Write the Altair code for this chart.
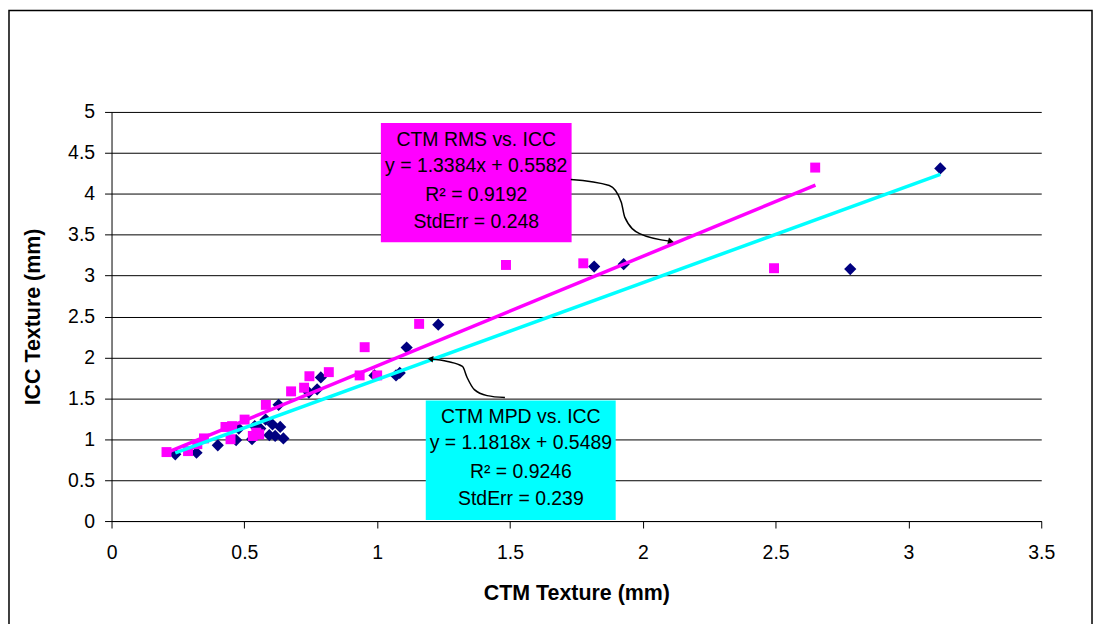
import altair as alt
import pandas as pd

# ---- data ----
mpd_x = [0.24, 0.32, 0.40, 0.469, 0.479, 0.529, 0.539, 0.56, 0.58, 0.594, 0.606, 0.616,
         0.635, 0.647, 0.629, 0.743, 0.774, 0.788, 0.99, 1.071, 1.085, 1.111, 1.23,
         1.817, 1.928, 2.781, 3.12]
mpd_y = [0.815, 0.835, 0.925, 0.99, 1.13, 1.00, 1.16, 1.13, 1.24, 1.05, 1.18, 1.04,
         1.15, 1.01, 1.42, 1.57, 1.61, 1.755, 1.78, 1.78, 1.81, 2.12, 2.40,
         3.11, 3.14, 3.08, 4.31]
rms_x = [0.207, 0.288, 0.323, 0.348, 0.429, 0.454, 0.448, 0.501, 0.532, 0.556, 0.545,
         0.581, 0.676, 0.725, 0.745, 0.818, 0.934, 0.953, 1.0, 1.158, 1.485, 1.776,
         2.494, 2.649]
rms_y = [0.843, 0.855, 0.94, 1.01, 1.15, 1.16, 1.00, 1.24, 1.04, 1.06, 1.08,
         1.42, 1.585, 1.63, 1.77, 1.82, 1.78, 2.125, 1.78, 2.41, 3.13, 3.15,
         3.09, 4.32]

x_ticks = [0, 0.5, 1, 1.5, 2, 2.5, 3, 3.5]
y_ticks = [0, 0.5, 1, 1.5, 2, 2.5, 3, 3.5, 4, 4.5, 5]

rms_slope, rms_intercept, rms_xmin, rms_xmax = 1.3384, 0.5582, 0.21, 2.65
mpd_slope, mpd_intercept, mpd_xmin, mpd_xmax = 1.1818, 0.5489, 0.24, 3.12

rms_label = ["CTM RMS vs. ICC", "y = 1.3384x + 0.5582", "R\u00b2 = 0.9192", "StdErr = 0.248"]
mpd_label = ["CTM MPD vs. ICC", "y = 1.1818x + 0.5489", "R\u00b2 = 0.9246", "StdErr = 0.239"]
rms_label_y = [4.66, 4.34, 3.98, 3.66]
mpd_label_y = [1.277, 0.949, 0.596, 0.268]
rms_label_x = 1.373
mpd_label_x = 1.541
rms_box = [1.014, 1.732, 3.406, 4.866]
mpd_box = [1.183, 1.898, 0.012, 1.472]

rms_arrow_x = [1.729, 1.874, 1.919, 1.932, 1.988, 2.106]
rms_arrow_y = [4.173, 4.100, 3.897, 3.714, 3.512, 3.418]
mpd_arrow_x = [1.200, 1.265, 1.321, 1.339, 1.366, 1.414, 1.481]
mpd_arrow_y = [1.983, 1.950, 1.889, 1.752, 1.606, 1.533, 1.509]

FONT = "Liberation Sans"

# ---- tables ----
mpd_df = pd.DataFrame({"x": mpd_x, "y": mpd_y})
rms_df = pd.DataFrame({"x": rms_x, "y": rms_y})
rms_fit = pd.DataFrame({"x": [rms_xmin, rms_xmax],
                        "y": [rms_slope * rms_xmin + rms_intercept, rms_slope * rms_xmax + rms_intercept]})
mpd_fit = pd.DataFrame({"x": [mpd_xmin, mpd_xmax],
                        "y": [mpd_slope * mpd_xmin + mpd_intercept, mpd_slope * mpd_xmax + mpd_intercept]})
box_df = pd.DataFrame({"x": [rms_box[0], mpd_box[0]], "x2": [rms_box[1], mpd_box[1]],
                       "y": [rms_box[2], mpd_box[2]], "y2": [rms_box[3], mpd_box[3]],
                       "c": ["rms", "mpd"]})
txt_df = pd.DataFrame({"x": [rms_label_x] * 4 + [mpd_label_x] * 4,
                       "y": rms_label_y + mpd_label_y,
                       "t": rms_label + mpd_label})
rms_arrow = pd.DataFrame({"x": rms_arrow_x, "y": rms_arrow_y, "i": list(range(len(rms_arrow_x)))})
mpd_arrow = pd.DataFrame({"x": mpd_arrow_x, "y": mpd_arrow_y, "i": list(range(len(mpd_arrow_x)))})

xscale = alt.Scale(domain=[0, 3.5], nice=False, zero=False)
yscale = alt.Scale(domain=[0, 5], nice=False, zero=False)

xaxis = alt.Axis(values=x_ticks, title="CTM Texture (mm)", grid=False, labelFlush=False,
                 labelExpr="datum.value + ''", labelFont=FONT, labelFontSize=19.5,
                 labelColor="black", titleFont=FONT, titleFontSize=21.5, titleFontWeight="bold",
                 titleColor="black", tickSize=7, tickColor="black", domainColor="black",
                 labelPadding=16, titlePadding=20)
yaxis = alt.Axis(values=y_ticks, title="ICC Texture (mm)", grid=True, gridColor="black",
                 gridOpacity=1, gridWidth=1, labelExpr="datum.value + ''", labelFont=FONT,
                 labelFlush=False,
                 labelFontSize=19.5, labelColor="black", titleFont=FONT, titleFontSize=21.5,
                 titleFontWeight="bold", titleColor="black", tickSize=7, tickColor="black",
                 domainColor="black", labelPadding=10, titlePadding=23)

X = alt.X("x:Q", scale=xscale, axis=xaxis)
Y = alt.Y("y:Q", scale=yscale, axis=yaxis)

frame = alt.Chart(pd.DataFrame({"a": [0]})).mark_rect(
    fillOpacity=0, stroke="black", strokeWidth=1.5).encode(
    x=alt.value(-103), x2=alt.value(985), y=alt.value(-102), y2=alt.value(640))

diamonds = alt.Chart(mpd_df).mark_point(shape="diamond", filled=True, color="#000080",
                                        size=150, opacity=1).encode(x=X, y=Y)
squares = alt.Chart(rms_df).mark_point(shape="square", filled=True, color="#FF00FF",
                                       size=100, opacity=1).encode(x=X, y=Y)
rms_line = alt.Chart(rms_fit).mark_line(color="#FF00FF", strokeWidth=3.5).encode(x=X, y=Y)
mpd_line = alt.Chart(mpd_fit).mark_line(color="#00FFFF", strokeWidth=3.5).encode(x=X, y=Y)

boxes = alt.Chart(box_df).mark_rect().encode(
    x=X, x2="x2:Q", y=Y, y2="y2:Q",
    color=alt.Color("c:N", scale=alt.Scale(domain=["rms", "mpd"], range=["#FF00FF", "#00FFFF"]),
                    legend=None))
texts = alt.Chart(txt_df).mark_text(font=FONT, fontSize=19.5, color="black",
                                    align="center", baseline="middle").encode(x=X, y=Y, text="t:N")

rms_curve = alt.Chart(rms_arrow).mark_line(color="black", strokeWidth=1.5,
                                           interpolate="monotone").encode(x=X, y=Y, order="i:Q")
mpd_curve = alt.Chart(mpd_arrow).mark_line(color="black", strokeWidth=1.5,
                                           interpolate="monotone").encode(x=X, y=Y, order="i:Q")
rms_head = alt.Chart(rms_arrow.tail(1)).mark_point(shape="triangle-right", filled=True,
                                                   color="black", size=45, angle=14,
                                                   opacity=1).encode(x=X, y=Y)
mpd_head = alt.Chart(mpd_arrow.head(1)).mark_point(shape="triangle-left", filled=True,
                                                   color="black", size=45, angle=8,
                                                   opacity=1).encode(x=X, y=Y)

chart = alt.layer(
    frame, diamonds, squares, mpd_line, rms_line, boxes, texts,
    rms_curve, mpd_curve, rms_head, mpd_head
).properties(
    width=934, height=411,
    autosize=alt.AutoSizeParams(type="none"),
    padding={"left": 104, "top": 103, "right": 53, "bottom": 102},
    background="white"
).configure_view(stroke=None)

chart.save("out.html", embed_options={"renderer": "svg", "actions": False})
